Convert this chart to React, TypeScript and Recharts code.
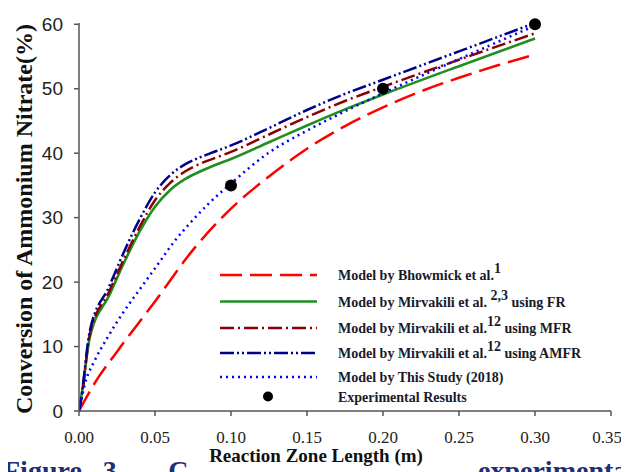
import {
  ComposedChart,
  Line,
  Scatter,
  XAxis,
  YAxis,
} from "recharts";

// Model by Bhowmick et al.
const bhowmickX = [0, 0.01, 0.025, 0.05, 0.075, 0.1, 0.125, 0.15, 0.175, 0.2, 0.225, 0.25, 0.275, 0.3];
const bhowmickY = [0, 4.2, 9.2, 17.0, 25.0, 31.4, 36.4, 40.7, 44.2, 47.1, 49.6, 51.7, 53.6, 55.3];

// Mirvakili FR
const frX = [0, 0.002, 0.007, 0.02, 0.03, 0.04, 0.05, 0.06, 0.07, 0.08, 0.09, 0.1, 0.125, 0.15, 0.175, 0.2, 0.25, 0.3];
const frY = [0, 3, 11.3, 18.0, 23.2, 27.9, 31.7, 34.3, 36.0, 37.2, 38.2, 39.1, 41.7, 44.3, 46.8, 49.1, 53.5, 57.8];

// Mirvakili MFR
const mfrX = [0, 0.002, 0.007, 0.02, 0.03, 0.04, 0.05, 0.06, 0.07, 0.08, 0.09, 0.1, 0.125, 0.15, 0.175, 0.2, 0.25, 0.3];
const mfrY = [0, 2.5, 11.8, 18.6, 23.8, 28.6, 32.7, 35.4, 37.2, 38.4, 39.3, 40.2, 42.9, 45.6, 48.1, 50.3, 54.5, 58.6];

// Mirvakili AMFR
const amfrX = [0, 0.0015, 0.007, 0.02, 0.03, 0.04, 0.05, 0.06, 0.07, 0.08, 0.09, 0.1, 0.125, 0.15, 0.175, 0.2, 0.25, 0.3];
const amfrY = [0, 2, 12.3, 19.4, 24.9, 29.8, 33.9, 36.6, 38.3, 39.4, 40.3, 41.2, 43.9, 46.7, 49.2, 51.4, 55.8, 60.2];

// This study (2018)
const studyX = [0, 0.004, 0.0105, 0.019, 0.03, 0.041, 0.052, 0.063, 0.074, 0.085, 0.1, 0.125, 0.15, 0.175, 0.2, 0.25, 0.3];
const studyY = [0, 4.3, 7.9, 11.5, 15.6, 19.2, 22.8, 26.4, 29.4, 32.1, 35.3, 40.1, 43.5, 46.5, 49.3, 54.6, 59.8];

// Experimental results
const expX = [0.1, 0.2, 0.3];
const expY = [35, 50, 60];

const xTicks = [0, 0.05, 0.1, 0.15, 0.2, 0.25, 0.3, 0.35];
const yTicks = [0, 10, 20, 30, 40, 50, 60];

const zip = (xs: number[], ys: number[]) => xs.map((x, i) => ({ x, y: ys[i] }));

const series = [
  { key: "bh", name: "Model by Bhowmick et al.", sup: "1", tail: "", data: zip(bhowmickX, bhowmickY), color: "#ff0000", dash: "22 8", w: 2.5 },
  { key: "fr", name: "Model by Mirvakili et al. ", sup: "2,3", tail: " using FR", data: zip(frX, frY), color: "#1f8f1f", dash: undefined, w: 2.6 },
  { key: "mfr", name: "Model by Mirvakili et al.", sup: "12", tail: " using MFR", data: zip(mfrX, mfrY), color: "#8b0000", dash: "14 4 2 4", w: 2.5 },
  { key: "amfr", name: "Model by Mirvakili et al.", sup: "12", tail: " using AMFR", data: zip(amfrX, amfrY), color: "#00008b", dash: "14 3 2 3 2 3", w: 2.5 },
  { key: "st", name: "Model by This Study (2018)", sup: "", tail: "", data: zip(studyX, studyY), color: "#0000ff", dash: "2 4", w: 2.5 },
];

const legendRows = [267, 293.5, 320, 345, 369];

const serif = "'Times New Roman', 'Liberation Serif', 'DejaVu Serif', serif";
const sans = "Arial, 'Liberation Sans', sans-serif";

// last tick label is pulled in a little so it is not clipped at the page edge
const XTick = (p: any) => {
  const v = p.payload.value as number;
  const shift = v >= 0.35 ? -4 : 0;
  return (
    <text
      x={p.x + shift}
      y={p.y + 13}
      textAnchor="middle"
      style={{ fontFamily: serif, fontSize: 17 }}
      fill="#222"
    >
      {v.toFixed(2)}
    </text>
  );
};

export default function App() {
  return (
    <div style={{ position: "relative", width: 621, height: 464 }}>
      <style>{"html,body{overflow:hidden}"}</style>
      <ComposedChart
        width={621}
        height={464}
        margin={{ top: 15, right: 18, left: 21, bottom: 31 }}
      >
        <XAxis
          type="number"
          dataKey="x"
          domain={[0, 0.35]}
          ticks={xTicks}
          allowDataOverflow
          height={30}
          tickSize={5}
          tickMargin={14}
          stroke="#555"
          strokeWidth={1.5}
          tick={<XTick />}
        />
        <XAxis
          xAxisId="top"
          orientation="top"
          type="number"
          domain={[0, 0.35]}
          height={0}
          tick={false}
          tickLine={false}
          stroke="#555"
          strokeWidth={1.5}
        />
        <YAxis
          type="number"
          domain={[0, 60]}
          ticks={yTicks}
          width={50}
          tickSize={5}
          tickMargin={11}
          stroke="#555"
          strokeWidth={1.5}
          tick={{ fill: "#222", fontSize: 19, fontFamily: sans }}
          label={{
            content: () => (
              <text
                x={24}
                y={211}
                transform="rotate(-90 24 211)"
                textAnchor="middle"
                style={{ fontFamily: serif, fontWeight: "bold", fontSize: 24 }}
                fill="#111"
              >
                Conversion of Ammonium Nitrate(%)
              </text>
            ),
          }}
        />
        <YAxis
          yAxisId="right"
          orientation="right"
          domain={[0, 60]}
          width={0}
          tick={false}
          tickLine={false}
          stroke="#555"
          strokeWidth={1.5}
        />
        {series.map((s) => (
          <Line
            key={s.key}
            data={s.data}
            dataKey="y"
            type="monotone"
            stroke={s.color}
            strokeWidth={s.w}
            strokeDasharray={s.dash}
            dot={false}
            activeDot={false}
            isAnimationActive={false}
          />
        ))}
        <Scatter
          data={zip(expX, expY)}
          dataKey="y"
          fill="#000"
          isAnimationActive={false}
          shape={(p: any) => <circle cx={p.cx} cy={p.cy} r={6} fill="#000" />}
        />
      </ComposedChart>

      <svg
        width={621}
        height={464}
        style={{ position: "absolute", left: 0, top: 0, pointerEvents: "none" }}
      >
        {series.map((s, i) => (
          <g key={s.key}>
            <line
              x1={212}
              x2={309}
              y1={legendRows[i]}
              y2={legendRows[i]}
              stroke={s.color}
              strokeWidth={s.w}
              strokeDasharray={s.dash}
            />
            <text
              x={330}
              y={legendRows[i] + 5}
              style={{ fontFamily: serif, fontWeight: "bold", fontSize: 14 }}
              fill="#1a1a2a"
            >
              {s.name}
              {s.sup && (
                <tspan fontSize={14} dy={-7}>
                  {s.sup}
                </tspan>
              )}
              {s.tail && <tspan dy={s.sup ? 7 : 0}>{s.tail}</tspan>}
            </text>
          </g>
        ))}
        <circle cx={260} cy={388.5} r={5} fill="#000" />
        <text
          x={330}
          y={393.5}
          style={{ fontFamily: serif, fontWeight: "bold", fontSize: 14 }}
          fill="#1a1a2a"
        >
          Experimental Results
        </text>
      </svg>

      <div
        style={{
          position: "absolute",
          left: -5,
          top: 447,
          whiteSpace: "nowrap",
          fontFamily: serif,
          fontWeight: "bold",
          fontSize: 28,
          lineHeight: "32px",
          color: "#1f2f6f",
          wordSpacing: 14,
        }}
      >
        Figure 3 - C
      </div>
      <div
        style={{
          position: "absolute",
          left: 470,
          top: 447,
          whiteSpace: "nowrap",
          fontFamily: serif,
          fontWeight: "bold",
          fontSize: 28,
          lineHeight: "32px",
          color: "#1f2f6f",
        }}
      >
        experimental
      </div>
      <div
        style={{
          position: "absolute",
          left: 198,
          top: 438,
          width: 220,
          textAlign: "center",
          fontFamily: serif,
          fontWeight: "bold",
          fontSize: 19,
          lineHeight: "20px",
          color: "#111",
        }}
      >
        Reaction Zone Length (m)
      </div>
    </div>
  );
}
